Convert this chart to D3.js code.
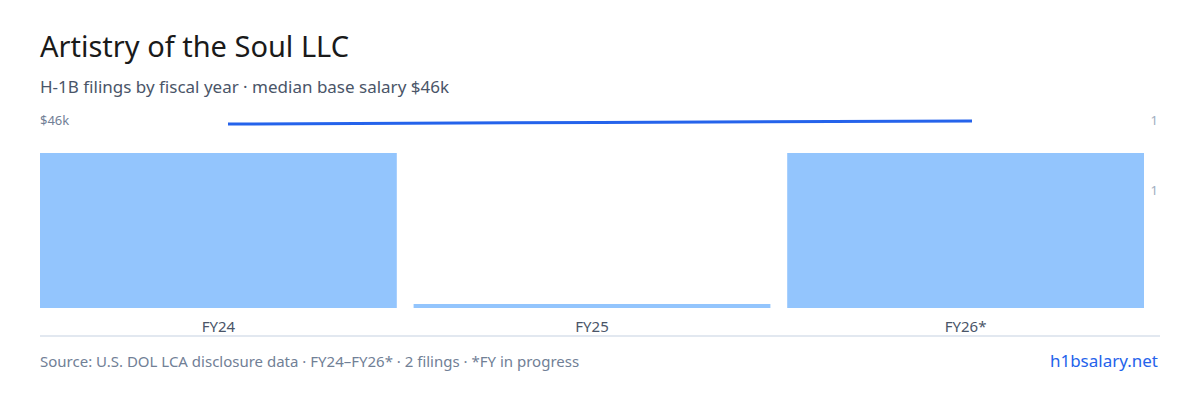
<!DOCTYPE html>
<html><head><meta charset="utf-8">
<script src="https://cdn.jsdelivr.net/npm/d3@7"></script>
<style>body{margin:0;background:#fff;font-family:"Noto Sans",sans-serif}</style>
</head><body><div id="chart"></div>
<script>
const years = ["FY24", "FY25", "FY26*"];
const filings = [1, 0, 1];
const salaryK = [45.5, 46, 46.5];
const rightTicks = [1.45, 0.91];

const width = 1200, height = 400;
const svg = d3.select("#chart").append("svg").attr("width", width).attr("height", height);

svg.append("text").attr("x", 40).attr("y", 57).attr("font-size", 29).attr("fill", "#1a1a1a").text("Artistry of the Soul LLC");
svg.append("text").attr("x", 40).attr("y", 93).attr("font-size", 17).attr("fill", "#4a5568").text("H-1B filings by fiscal year · median base salary $46k");

const x = d3.scaleBand().domain(years).range([40, 1144]).paddingInner(0.045);
const yCount = d3.scaleLinear().domain([0, 1]).range([308, 153]);
const yRight = d3.scaleLinear().domain([0, 1.45]).range([308, 120]);
const ySal = d3.scaleLinear().domain([0, 46.5]).range([260, 121]);
const xLine = d3.scalePoint().domain(years).range([228, 972]);

svg.selectAll(".bar").data(years).join("rect")
  .attr("x", d => x(d)).attr("width", x.bandwidth())
  .attr("y", (d, i) => Math.min(yCount(filings[i]), 304))
  .attr("height", (d, i) => Math.max(308 - yCount(filings[i]), 4))
  .attr("fill", "#93c5fd");

svg.append("line").attr("x1", 40).attr("x2", 1160).attr("y1", 336).attr("y2", 336).attr("stroke", "#e2e8f0").attr("stroke-width", 2);

svg.selectAll(".xl").data(years).join("text")
  .attr("x", d => x(d) + x.bandwidth() / 2).attr("y", 332).attr("text-anchor", "middle")
  .attr("font-size", 15).attr("fill", "#4a5568").text(d => d);

svg.append("path").datum(years)
  .attr("d", d3.line().x(d => xLine(d)).y((d, i) => ySal(salaryK[i])))
  .attr("fill", "none").attr("stroke", "#2563eb").attr("stroke-width", 3);

svg.append("text").attr("x", 40).attr("y", 125).attr("font-size", 13).attr("fill", "#718096").text("$46k");
svg.selectAll(".rt").data(rightTicks).join("text")
  .attr("x", 1158).attr("y", d => yRight(d) + 5).attr("text-anchor", "end")
  .attr("font-size", 13).attr("fill", "#a0aec0").text(d => d3.format(".0f")(d));

svg.append("text").attr("x", 40).attr("y", 367).attr("font-size", 15).attr("fill", "#718096").text("Source: U.S. DOL LCA disclosure data · FY24–FY26* · 2 filings · *FY in progress");
svg.append("text").attr("x", 1158).attr("y", 367).attr("text-anchor", "end").attr("font-size", 17).attr("fill", "#2563eb").text("h1bsalary.net");
</script></body></html>
